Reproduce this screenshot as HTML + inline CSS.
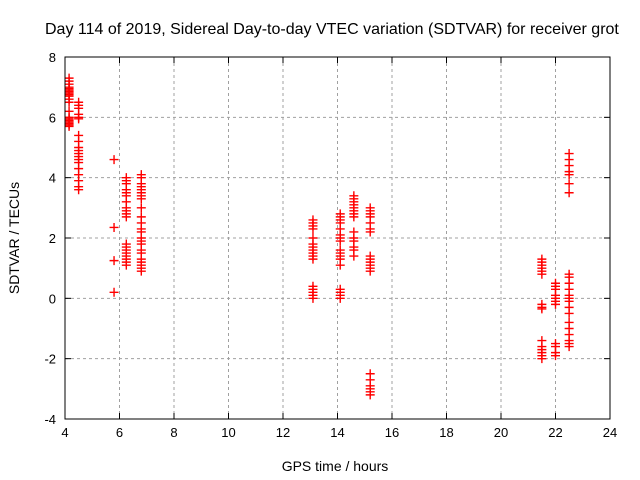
<!DOCTYPE html>
<html><head><meta charset="utf-8"><style>
body{margin:0;background:#fff;}
svg{display:block;font-family:"Liberation Sans",sans-serif;}
</style></head><body>
<svg id="chart" width="640" height="480" viewBox="0 0 640 480">
<text x="45" y="34" font-size="16">Day 114 of 2019, Sidereal Day-to-day VTEC variation (SDTVAR) for receiver grot</text>
<g id="grid"></g>
<g id="ticks"></g>
<g id="marks"></g>
<rect x="65" y="57" width="545" height="362" fill="none" stroke="#000" stroke-width="1"/>
<text x="335" y="471" font-size="14" text-anchor="middle">GPS time / hours</text>
<text transform="translate(19,238) rotate(-90)" font-size="14" text-anchor="middle">SDTVAR / TECUs</text>
</svg>
<script>
const xTicks=[4,6,8,10,12,14,16,18,20,22,24];
const yTicks=[-4,-2,0,2,4,6,8];
const clusterTimes=[4.15,4.5,5.8,6.25,6.8,13.1,14.1,14.6,15.2,21.5,22.0,22.5];
const clusterValues=[
[7.3,7.2,7.1,7.0,6.95,6.9,6.85,6.8,6.75,6.7,6.6,6.5,6.2,6.0,5.95,5.9,5.85,5.8,5.75,5.7],
[6.5,6.4,6.3,6.1,6.0,5.95,5.4,5.2,5.0,4.9,4.8,4.7,4.6,4.5,4.3,4.1,3.9,3.7,3.6],
[4.6,2.35,1.25,0.2],
[4.0,3.9,3.8,3.6,3.5,3.4,3.2,3.0,2.9,2.8,2.7,1.8,1.7,1.6,1.5,1.4,1.3,1.2,1.1],
[4.1,4.0,3.8,3.7,3.6,3.5,3.4,3.3,3.0,2.7,2.5,2.3,2.2,2.0,1.9,1.8,1.6,1.5,1.3,1.2,1.1,1.0,0.9],
[2.6,2.5,2.4,2.3,2.0,1.8,1.7,1.6,1.5,1.4,1.3,0.4,0.3,0.2,0.1,0.0],
[2.8,2.7,2.6,2.5,2.3,2.1,2.0,1.9,1.6,1.5,1.4,1.3,1.1,0.3,0.2,0.1,0.0],
[3.4,3.3,3.2,3.1,3.0,2.9,2.8,2.7,2.2,2.0,1.9,1.7,1.6,1.4],
[3.0,2.9,2.8,2.7,2.5,2.3,2.2,1.4,1.3,1.2,1.1,1.0,0.9,-2.5,-2.7,-2.9,-3.0,-3.1,-3.2],
[1.3,1.2,1.1,1.0,0.9,0.8,-0.2,-0.3,-0.35,-1.4,-1.6,-1.7,-1.8,-1.9,-2.0],
[0.5,0.4,0.3,0.1,0.0,-0.1,-0.2,-1.5,-1.6,-1.8,-1.9],
[4.8,4.6,4.4,4.2,4.1,3.8,3.5,0.8,0.7,0.5,0.3,0.1,0.0,-0.1,-0.3,-0.5,-0.8,-1.0,-1.2,-1.4,-1.5,-1.6]
];
const NS='http://www.w3.org/2000/svg';
const X0=65,X1=610,Y0=419,Y1=57;
function sx(v){return X0+(v-4)/(24-4)*(X1-X0);}
function sy(v){return Y0-(v+4)/(8+4)*(Y0-Y1);}
function mk(tag,attrs,parent){const e=document.createElementNS(NS,tag);for(const k in attrs)e.setAttribute(k,attrs[k]);parent.appendChild(e);return e;}
const grid=document.getElementById('grid'),ticks=document.getElementById('ticks'),marks=document.getElementById('marks');
xTicks.forEach(t=>{const x=sx(t);
 if(t>4&&t<24){const g=mk('line',{x1:x,x2:x,y1:Y1,y2:Y0,stroke:'#a0a0a0','stroke-dasharray':'3,3'},grid);
 
 }
 const a=mk('line',{x1:x,x2:x,y1:Y0,y2:Y0-6,stroke:'#000'},ticks);
 
 
 const b=mk('line',{x1:x,x2:x,y1:Y1,y2:Y1+6,stroke:'#000'},ticks);
 
 
 const l=mk('text',{x:x,y:Y0+18,'font-size':'13','text-anchor':'middle'},ticks);l.textContent=t;
 
 
});
yTicks.forEach(t=>{const y=sy(t);
 if(t>-4&&t<8){const g=mk('line',{x1:X0,x2:X1,y1:y,y2:y,stroke:'#a0a0a0','stroke-dasharray':'3,3'},grid);
 
 }
 const a=mk('line',{x1:X0,x2:X0+6,y1:y,y2:y,stroke:'#000'},ticks);
 
 
 const b=mk('line',{x1:X1,x2:X1-6,y1:y,y2:y,stroke:'#000'},ticks);
 
 
 const l=mk('text',{x:X0-9,y:y+5,'font-size':'13','text-anchor':'end'},ticks);l.textContent=t;
 
 
});
clusterTimes.forEach((t,i)=>{clusterValues[i].forEach(v=>{
 const x=sx(t),y=sy(v);
 const p=mk('path',{d:`M${x-4.5},${y}H${x+4.5}M${x},${y-4.5}V${y+4.5}`,stroke:'#ff0000','stroke-width':'1.4'},marks);
 
 
});});
</script>
</body></html>
